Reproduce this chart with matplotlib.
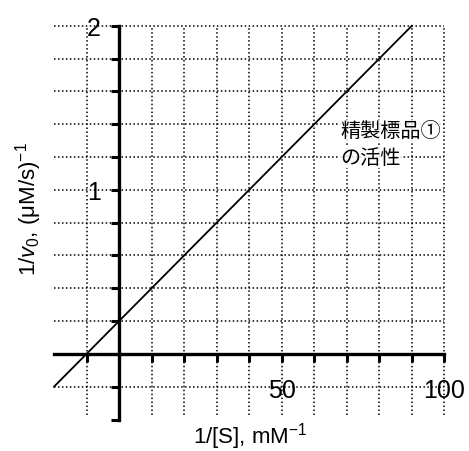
import matplotlib
matplotlib.use('Agg')
import matplotlib.pyplot as plt
import numpy as np

# data (Lineweaver-Burk plot)
invS = [-20, 90]            # 1/[S], mM^-1  (line end points)
invV = [-0.2, 2.0]          # 1/v0, (uM/s)^-1
xTicks = list(range(-10, 101, 10))
yTicks = [-0.4, -0.2, 0.0, 0.2, 0.4, 0.6, 0.8, 1.0, 1.2, 1.4, 1.6, 1.8, 2.0]
xLabels = {50: '50', 100: '100'}
yLabels = {1.0: '1', 2.0: '2'}
noteLines = ['精製標品①', 'の活性']

plt.rcParams['font.family'] = ['Liberation Sans', 'Noto Sans CJK JP', 'DejaVu Sans']
plt.rcParams['mathtext.fontset'] = 'custom'
plt.rcParams['mathtext.rm'] = 'Liberation Sans'
plt.rcParams['mathtext.it'] = 'Liberation Sans:italic'

fig = plt.figure(figsize=(4.69, 4.52), dpi=100)
ax = fig.add_axes([0.113, 0.066, 0.840, 0.882])
ax.set_xlim(-20.3, 100.8)
ax.set_ylim(-0.41, 2.02)

# dotted grid
dots = (0, (1, 1.6))
for x in xTicks:
    ax.plot([x, x], [-0.37, 2.0], color='black', lw=1.1, ls=dots, zorder=1)
for y in yTicks[1:]:
    ax.plot([-20, 100], [y, y], color='black', lw=1.1, ls=dots, zorder=1)

# the line
ax.plot(invS, invV, color='black', lw=1.3, zorder=3)

# axes through the origin
for side in ['top', 'right']:
    ax.spines[side].set_visible(False)
ax.spines['left'].set_position(('data', 0))
ax.spines['bottom'].set_position(('data', 0))
ax.spines['left'].set_bounds(-0.4, 2.0)
ax.spines['bottom'].set_bounds(-20, 100)
ax.spines['left'].set_linewidth(2.4)
ax.spines['bottom'].set_linewidth(2.4)
ax.spines['left'].set_zorder(4)
ax.spines['bottom'].set_zorder(4)

ax.set_xticks(xTicks)
ax.set_xticklabels([xLabels.get(x, '') for x in xTicks])
ax.set_yticks(yTicks)
ax.set_yticklabels([yLabels.get(round(y, 1), '') for y in yTicks])
ax.tick_params(axis='x', direction='out', length=6, width=2.2, pad=11, labelsize=18)
ax.tick_params(axis='y', direction='out', length=6, width=2.2, pad=7, labelsize=18)

ax.set_xlabel('1/[S], mM$^{-1}$', fontsize=16, labelpad=0, va='center')
ax.xaxis.set_label_coords(0.5, -0.036)
ax.set_ylabel('1/$v_0$, (μM/s)$^{-1}$', fontsize=16, va='center')
ax.yaxis.set_label_coords(-0.062, 0.535)

# note text next to the line
noteY = [1.36, 1.20]
for line, y in zip(noteLines, noteY):
    ax.text(68, y, line, fontsize=14.5, family=['Noto Sans CJK JP', 'DejaVu Sans'],
            ha='left', va='center', zorder=5,
            bbox=dict(facecolor='white', edgecolor='none', alpha=0.85, pad=0.5))

fig.savefig('out.png', dpi=100)
